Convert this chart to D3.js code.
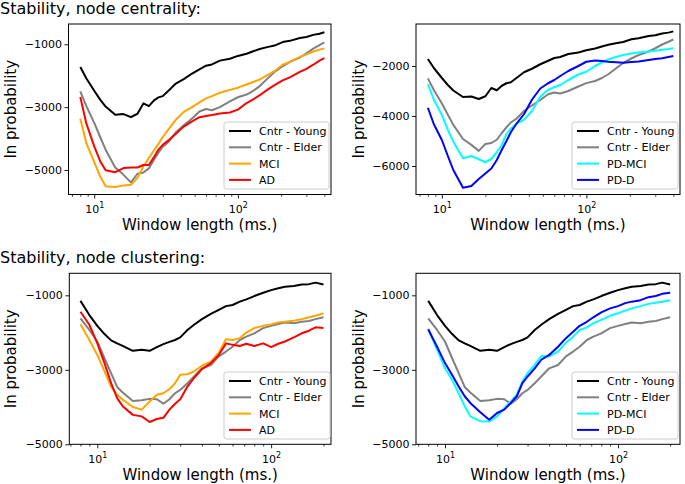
<!DOCTYPE html>
<html>
<head>
<meta charset="utf-8">
<script src="https://cdn.jsdelivr.net/npm/d3@7"></script>
<style>
  html, body { margin: 0; padding: 0; background: #fff; }
  svg { display: block; font-family: "DejaVu Sans", sans-serif; }
</style>
</head>
<body>
<svg id="chart" width="685" height="484"></svg>
<script>
// ---------------- DATA ----------------
const titles = ["Stability, node centrality:", "Stability, node clustering:"];
const xLabel = "Window length (ms.)";
const yLabel = "In probability";

// window lengths (ms) sampled for top row (centrality) and bottom row (clustering)
const xTop = [8, 8.8, 10, 11, 12, 14, 16, 18, 20, 22, 24, 26, 28, 30, 33, 37, 42, 48, 54, 60, 66, 75, 88, 100, 115, 128, 142, 160, 180, 205, 230, 270, 300, 335, 370, 400];
const xBot = [8, 9, 10, 11, 12, 13, 14, 16, 18, 20, 22, 24, 26, 28, 30, 33, 36, 40, 45, 50, 55, 60, 66, 72, 80, 90, 100, 110, 120, 135, 150, 165, 180, 200];

// centrality (top row)
const centYoung = [-1720, -2080, -2480, -2760, -2980, -3240, -3220, -3320, -3210, -2880, -2970, -2790, -2690, -2650, -2470, -2250, -2110, -1930, -1800, -1680, -1640, -1520, -1460, -1370, -1300, -1220, -1150, -1090, -1040, -930, -890, -800, -770, -700, -665, -615];
const centElder = [-2495, -2960, -3500, -3950, -4355, -4920, -5155, -5395, -5120, -5080, -4950, -4680, -4450, -4260, -4100, -3800, -3580, -3360, -3140, -3060, -3100, -3000, -2820, -2685, -2600, -2480, -2330, -2100, -1880, -1700, -1560, -1420, -1290, -1140, -1030, -940];
const centMCI   = [-3370, -4140, -4750, -5200, -5520, -5540, -5490, -5470, -5250, -4880, -4620, -4380, -4170, -3950, -3700, -3400, -3150, -3000, -2850, -2720, -2650, -2540, -2450, -2380, -2280, -2200, -2120, -1980, -1850, -1650, -1560, -1400, -1320, -1230, -1170, -1130];
const centAD    = [-2680, -3510, -4250, -4720, -5010, -5070, -4940, -4920, -4920, -4840, -4840, -4600, -4350, -4200, -4050, -3850, -3620, -3450, -3320, -3280, -3250, -3200, -3170, -3080, -2870, -2750, -2620, -2450, -2300, -2150, -2050, -1880, -1780, -1650, -1520, -1440];
const centPDMCI = [-2730, -3350, -3960, -4550, -5030, -5690, -5600, -5730, -5850, -5720, -5450, -5150, -4720, -4500, -4300, -4150, -3800, -3230, -2960, -2850, -2760, -2560, -2340, -2230, -2000, -1860, -1740, -1640, -1560, -1500, -1460, -1420, -1390, -1350, -1320, -1290];
const centPDD   = [-3670, -4330, -4960, -5600, -6160, -6870, -6800, -6520, -6300, -6100, -5760, -5350, -5000, -4650, -4290, -3930, -3350, -2900, -2700, -2560, -2400, -2200, -2000, -1830, -1780, -1800, -1830, -1850, -1870, -1840, -1820, -1760, -1720, -1690, -1640, -1600];

// clustering (bottom row)
const clusYoung = [-1150, -1530, -1820, -2040, -2210, -2290, -2360, -2490, -2460, -2490, -2390, -2310, -2250, -2200, -2130, -1930, -1790, -1640, -1500, -1390, -1290, -1260, -1170, -1110, -1020, -930, -860, -810, -770, -750, -710, -700, -660, -710];
const clusElder = [-1620, -1930, -2240, -2690, -3090, -3460, -3610, -3840, -3820, -3780, -3790, -3910, -3790, -3630, -3540, -3360, -3180, -2960, -2870, -2640, -2510, -2380, -2200, -2110, -2020, -1880, -1820, -1770, -1730, -1750, -1710, -1690, -1640, -1590];
const clusMCI   = [-1780, -2200, -2600, -3040, -3450, -3670, -3800, -4000, -4070, -3850, -3670, -3630, -3520, -3360, -3130, -3120, -3040, -2890, -2780, -2540, -2180, -2200, -2150, -2000, -1880, -1820, -1780, -1730, -1710, -1680, -1640, -1590, -1550, -1480];
const clusAD    = [-1440, -1790, -2290, -2820, -3360, -3760, -3980, -4210, -4250, -4400, -4320, -4290, -4070, -3910, -3790, -3450, -3220, -2980, -2820, -2600, -2290, -2330, -2360, -2300, -2360, -2290, -2390, -2300, -2240, -2130, -2020, -1950, -1860, -1880];
const clusPDMCI = [-1910, -2460, -2960, -3270, -3630, -3980, -4250, -4380, -4390, -4250, -4030, -3850, -3670, -3310, -3090, -2870, -2630, -2640, -2510, -2270, -2110, -1930, -1860, -1750, -1660, -1550, -1480, -1410, -1350, -1290, -1230, -1200, -1170, -1130];
const clusPDD   = [-1910, -2380, -2820, -3140, -3450, -3710, -3890, -4140, -4340, -4160, -4070, -3890, -3710, -3360, -3180, -2960, -2730, -2600, -2380, -2150, -1980, -1820, -1710, -1590, -1460, -1350, -1290, -1210, -1170, -1130, -1050, -1020, -960, -930];

const namesAD = ["Cntr - Young", "Cntr - Elder", "MCI", "AD"];
const namesPD = ["Cntr - Young", "Cntr - Elder", "PD-MCI", "PD-D"];
const colors = ["#000000", "#808080", "#ffa500", "#ff0000"];
const colorsPD = ["#000000", "#808080", "#00ffff", "#0000ff"];

const yTicksA = [-1000, -3000, -5000];
const yTicksB = [-2000, -4000, -6000];
const xMajor = [10, 100];
const xMinor = [7, 8, 9, 20, 30, 40, 50, 60, 70, 80, 90, 200, 300, 400];

// ---------------- LAYOUT ----------------
const panels = [
  { box: [68.5, 24, 331, 194.5], xDom: [6.62, 445], yDom: [-5780, -354], yTicks: yTicksA,
    x: xTop, series: [centYoung, centElder, centMCI, centAD], names: namesAD, cols: colors,
    legend: [224, 122, 105, 67], ylabX: 16 },
  { box: [416, 24, 680, 194.5], xDom: [6.62, 445], yDom: [-7140, -320], yTicks: yTicksB,
    x: xTop, series: [centYoung, centElder, centPDMCI, centPDD], names: namesPD, cols: colorsPD,
    legend: [572, 122, 106, 67], ylabX: 364 },
  { box: [69.3, 273.3, 331, 444.3], xDom: [6.9, 221], yDom: [-5000, -409], yTicks: yTicksA,
    x: xBot, series: [clusYoung, clusElder, clusMCI, clusAD], names: namesAD, cols: colors,
    legend: [224, 372, 106, 67], ylabX: 16 },
  { box: [416, 273.3, 680, 444.3], xDom: [6.8, 228], yDom: [-5000, -409], yTicks: yTicksA,
    x: xBot, series: [clusYoung, clusElder, clusPDMCI, clusPDD], names: namesPD, cols: colorsPD,
    legend: [572, 372, 106, 67], ylabX: 364 }
];

const svg = d3.select("#chart");

svg.append("text").attr("x", 0).attr("y", 14).attr("font-size", 16).text(titles[0]);
svg.append("text").attr("x", 0).attr("y", 263).attr("font-size", 16).text(titles[1]);

const fmtY = d3.format("d");

panels.forEach(p => {
  const [x0, y0, x1, y1] = p.box;
  const xs = d3.scaleLog().domain(p.xDom).range([x0, x1]);
  const ys = d3.scaleLinear().domain(p.yDom).range([y1, y0]);
  const g = svg.append("g");

  // lines
  const line = d3.line().x((d, i) => xs(p.x[i])).y(d => ys(d));
  p.series.forEach((s, k) => {
    g.append("path").datum(s).attr("d", line)
      .attr("fill", "none").attr("stroke", p.cols[k]).attr("stroke-width", 2)
      .attr("stroke-linejoin", "round");
  });

  // x axis: minor
  const gxMin = g.append("g").attr("transform", `translate(0,${y1})`)
    .call(d3.axisBottom(xs).tickValues(xMinor.filter(v => v >= p.xDom[0] && v <= p.xDom[1]))
      .tickSize(2.2).tickFormat(() => ""));
  gxMin.select(".domain").remove();
  gxMin.selectAll("line").attr("stroke", "#000").attr("stroke-width", 0.8);

  // x axis: major
  const gx = g.append("g").attr("transform", `translate(0,${y1})`)
    .call(d3.axisBottom(xs).tickValues(xMajor).tickSize(4).tickPadding(4).tickFormat(() => ""));
  gx.select(".domain").remove();
  gx.selectAll("line").attr("stroke", "#000").attr("stroke-width", 0.9);
  gx.selectAll(".tick text").each(function(d) {
    const t = d3.select(this).attr("font-size", 11).attr("font-family", "DejaVu Sans")
      .attr("fill", "#000").attr("dy", null).attr("y", 18.5);
    t.append("tspan").text("10");
    t.append("tspan").attr("font-size", 8).attr("dy", -5).text(String(Math.round(Math.log10(d))));
  });

  // y axis
  const gy = g.append("g").attr("transform", `translate(${x0},0)`)
    .call(d3.axisLeft(ys).tickValues(p.yTicks).tickSize(4).tickPadding(2.5).tickFormat(fmtY));
  gy.select(".domain").remove();
  gy.selectAll("line").attr("stroke", "#000").attr("stroke-width", 0.9);
  gy.selectAll(".tick text").attr("font-size", 11).attr("font-family", "DejaVu Sans").attr("fill", "#000");

  // frame
  g.append("rect").attr("x", x0).attr("y", y0).attr("width", x1 - x0).attr("height", y1 - y0)
    .attr("fill", "none").attr("stroke", "#000").attr("stroke-width", 1);

  // axis labels
  g.append("text").attr("x", (x0 + x1) / 2).attr("y", y1 + 35.5).attr("text-anchor", "middle")
    .attr("font-size", 15).text(xLabel);
  g.append("text").attr("transform", `translate(${p.ylabX},${(y0 + y1) / 2}) rotate(-90)`)
    .attr("text-anchor", "middle").attr("font-size", 15).text(yLabel);

  // legend
  const [lx, ly, lw, lh] = p.legend;
  const lg = g.append("g");
  lg.append("rect").attr("x", lx).attr("y", ly).attr("width", lw).attr("height", lh)
    .attr("rx", 2.5).attr("fill", "#fff").attr("fill-opacity", 0.8)
    .attr("stroke", "#cccccc").attr("stroke-width", 1);
  p.names.forEach((n, k) => {
    const cy = ly + 9 + k * 16.3;
    lg.append("line").attr("x1", lx + 5).attr("x2", lx + 27).attr("y1", cy).attr("y2", cy)
      .attr("stroke", p.cols[k]).attr("stroke-width", 2);
    lg.append("text").attr("x", lx + 35).attr("y", cy + 4).attr("font-size", 11).text(n);
  });
});
</script>
</body>
</html>
